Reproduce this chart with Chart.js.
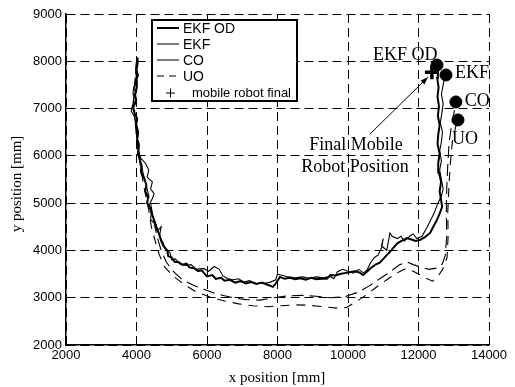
<!DOCTYPE html>
<html>
<head>
<meta charset="utf-8">
<script src="https://cdn.jsdelivr.net/npm/chart.js@4/dist/chart.umd.min.js"></script>
<style>html,body{margin:0;padding:0;background:#fff}</style>
</head>
<body>
<canvas id="trackChart" width="515" height="387"></canvas>
<script>
// axis ticks
const xTicks = [2000, 4000, 6000, 8000, 10000, 12000, 14000];
const yTicks = [2000, 3000, 4000, 5000, 6000, 7000, 8000, 9000];

// trajectories [x, y] in mm
const ekfOdPath = [[4020,8080],[4030,7950],[4000,7820],[4040,7700],[3990,7600],[4010,7450],[3960,7300],[3990,7150],[3900,7020],[3950,6900],[4020,6780],[3990,6650],[4050,6500],[4020,6350],[4060,6200],[4040,6050],[4100,5900],[4150,5780],[4130,5650],[4220,5520],[4280,5380],[4250,5250],[4330,5120],[4300,5000],[4400,4880],[4450,4740],[4520,4600],[4580,4450],[4650,4330],[4700,4200],[4760,4100],[4870,4000],[4900,3880],[5000,3850],[5080,3760],[5200,3750],[5300,3700],[5420,3720],[5500,3640],[5650,3620],[5750,3560],[5850,3580],[6000,3450],[6150,3480],[6250,3400],[6400,3420],[6500,3360],[6650,3380],[6800,3320],[6950,3350],[7100,3300],[7250,3330],[7400,3290],[7550,3320],[7700,3280],[7870,3230],[7950,3300],[8070,3440],[8200,3400],[8350,3420],[8500,3390],[8650,3410],[8800,3380],[8950,3420],[9100,3390],[9250,3400],[9400,3400],[9500,3480],[9650,3470],[9770,3500],[9900,3520],[10050,3540],[10200,3560],[10330,3530],[10430,3480],[10550,3560],[10650,3630],[10780,3700],[10900,3740],[11000,3820],[11100,3900],[11200,3980],[11280,4050],[11400,4150],[11520,4200],[11670,4260],[11800,4230],[11920,4200],[12040,4220],[12180,4280],[12330,4370],[12420,4500],[12520,4640],[12600,4780],[12670,4920],[12640,5070],[12600,5250],[12640,5450],[12580,5650],[12560,5850],[12600,6050],[12540,6250],[12560,6450],[12600,6650],[12550,6850],[12580,7050],[12540,7250],[12570,7450],[12530,7650],[12550,7850]];

const ekfPath = [[4000,8050],[4020,7900],[3980,7750],[4010,7600],[3920,7450],[3900,7300],[4000,7200],[3880,7050],[3850,6950],[3930,6850],[3990,6700],[4030,6550],[4000,6400],[4080,6250],[4060,6100],[4120,5950],[4250,5850],[4350,5700],[4300,5550],[4450,5450],[4400,5300],[4500,5200],[4450,5100],[4350,4950],[4420,4800],[4400,4650],[4550,4550],[4600,4420],[4700,4500],[4650,4300],[4760,4150],[4800,4050],[4950,3950],[5000,3800],[5100,3820],[5250,3700],[5400,3680],[5550,3700],[5700,3600],[5900,3620],[6050,3560],[6200,3660],[6350,3600],[6450,3460],[6600,3400],[6750,3380],[6900,3400],[7050,3330],[7200,3360],[7400,3300],[7600,3300],[7800,3330],[7950,3380],[8000,3500],[8150,3470],[8300,3440],[8500,3420],[8700,3440],[8900,3410],[9100,3440],[9300,3420],[9500,3450],[9600,3400],[9700,3550],[9850,3600],[10000,3560],[10150,3520],[10300,3600],[10450,3520],[10550,3600],[10650,3750],[10750,3850],[10850,3900],[10950,4050],[11000,4250],[10950,4100],[11100,4000],[11190,4370],[11250,4300],[11400,4250],[11500,4300],[11600,4200],[11750,4300],[11850,4350],[11950,4250],[12100,4300],[12250,4500],[12350,4650],[12450,4800],[12550,5000],[12650,5150],[12700,5300],[12650,5500],[12600,5700],[12650,5900],[12600,6100],[12650,6300],[12680,6500],[12620,6700],[12660,6900],[12700,7100],[12650,7300],[12700,7500],[12750,7700]];

const coPath = [[4000,8000],[3970,7700],[3950,7400],[3900,7100],[3950,6800],[4000,6500],[4050,6200],[4100,5900],[4200,5600],[4300,5300],[4400,5000],[4480,4650],[4580,4300],[4700,4000],[4850,3750],[5050,3550],[5300,3380],[5600,3270],[5900,3180],[6200,3100],[6500,3040],[6800,2990],[7100,2960],[7500,2950],[7900,3000],[8300,3040],[8700,3050],[9100,3030],[9500,3000],[9900,3020],[10300,3120],[10600,3250],[10900,3400],[11200,3550],[11450,3690],[11670,3760],[11850,3700],[12040,3650],[12300,3600],[12550,3630],[12680,3720],[12760,3900],[12800,4300],[12790,4800],[12800,5300],[12830,5800],[12870,6300],[12950,6700],[13060,7100]];

const uoPath = [[4000,8000],[3960,7600],[3920,7200],[3950,6800],[4000,6400],[4070,6000],[4150,5600],[4250,5200],[4350,4850],[4420,4500],[4530,4200],[4650,3900],[4800,3650],[5050,3450],[5350,3280],[5700,3120],[6100,3010],[6500,2930],[6900,2870],[7300,2830],[7700,2810],[8100,2830],[8500,2850],[8900,2840],[9300,2810],[9700,2780],[9950,2790],[10200,2900],[10500,3050],[10800,3220],[11100,3380],[11400,3530],[11650,3620],[11850,3560],[12050,3480],[12250,3400],[12400,3350],[12550,3450],[12700,3620],[12810,3850],[12840,4300],[12830,4800],[12860,5300],[12900,5800],[12960,6300],[13050,6600],[13110,6760]];

// final estimated positions and the true final position
const finalNames = ['EKF OD', 'EKF', 'CO', 'UO'];
const finalX = [12525, 12780, 13060, 13120];
const finalY = [7920, 7710, 7140, 6760];
const robotFinal = [12380, 7770];

const toPts = arr => arr.map(p => ({x: p[0], y: p[1]}));

const serif = 'Liberation Serif, Times New Roman, serif';
const sans = 'Liberation Sans, Arial, sans-serif';

// legend, labels, arrow, axis titles
const extras = {
  id: 'extras',
  afterDraw(chart) {
    const ctx = chart.ctx;
    const xs = chart.scales.x, ys = chart.scales.y;
    ctx.save();

    // legend box
    ctx.fillStyle = '#fff';
    ctx.fillRect(152, 20, 145, 81);
    ctx.strokeStyle = '#000';
    ctx.lineWidth = 2;
    ctx.strokeRect(152, 20, 145, 81);
    const rows = [28, 44, 60, 76];
    const widths = [2, 1, 1, 1];
    ctx.font = '14px ' + sans;
    ctx.fillStyle = '#000';
    ctx.textBaseline = 'middle';
    rows.forEach((ry, i) => {
      ctx.beginPath();
      ctx.lineWidth = widths[i];
      ctx.setLineDash(i === 3 ? [7, 5] : []);
      ctx.moveTo(157, ry);
      ctx.lineTo(179, ry);
      ctx.stroke();
      ctx.setLineDash([]);
      ctx.fillText(finalNames[i], 183, ry + 1);
    });
    ctx.lineWidth = 1;
    ctx.beginPath();
    ctx.moveTo(166, 93); ctx.lineTo(175, 93);
    ctx.moveTo(170.5, 88.5); ctx.lineTo(170.5, 97.5);
    ctx.stroke();
    ctx.font = '13px ' + sans;
    ctx.fillText('mobile robot final', 192, 93);

    // labels next to the final positions
    ctx.font = '18px ' + serif;
    ctx.textBaseline = 'alphabetic';
    const off = [[-64, -5], [9, 3], [9, 4], [-6, 24]];
    finalNames.forEach((n, i) => {
      const px = xs.getPixelForValue(finalX[i]);
      const py = ys.getPixelForValue(finalY[i]);
      ctx.fillText(n, px + off[i][0], py + off[i][1]);
    });

    // annotation
    ctx.textAlign = 'center';
    ctx.fillText('Final Mobile', 356, 150);
    ctx.fillText('Robot Position', 355, 172);
    const tx = xs.getPixelForValue(robotFinal[0]) - 4;
    const ty = ys.getPixelForValue(robotFinal[1]) + 5;
    const sx = 370, sy = 134;
    ctx.lineWidth = 1;
    ctx.beginPath();
    ctx.moveTo(sx, sy);
    ctx.lineTo(tx, ty);
    ctx.stroke();
    const ang = Math.atan2(ty - sy, tx - sx);
    ctx.beginPath();
    ctx.moveTo(tx, ty);
    ctx.lineTo(tx - 8 * Math.cos(ang - 0.35), ty - 8 * Math.sin(ang - 0.35));
    ctx.lineTo(tx - 8 * Math.cos(ang + 0.35), ty - 8 * Math.sin(ang + 0.35));
    ctx.closePath();
    ctx.fill();

    // axis titles
    ctx.font = '15px ' + serif;
    ctx.fillText('x position [mm]', 277, 382);
    ctx.translate(17, 184);
    ctx.rotate(-Math.PI / 2);
    ctx.textBaseline = 'middle';
    ctx.fillText('y position [mm]', 0, 0);
    ctx.restore();
  }
};

new Chart(document.getElementById('trackChart'), {
  type: 'scatter',
  data: {
    datasets: [
      {
        label: 'final',
        data: finalX.map((x, i) => ({x: x, y: finalY[i]})),
        backgroundColor: '#000',
        borderColor: '#000',
        pointRadius: 6
      },
      {
        label: 'mobile robot final',
        data: [{x: robotFinal[0], y: robotFinal[1]}],
        pointStyle: 'cross',
        pointRadius: 7,
        borderWidth: 3.5,
        borderColor: '#000'
      },
      { label: 'EKF OD', data: toPts(ekfOdPath), showLine: true, borderColor: '#000', borderWidth: 2, pointRadius: 0, tension: 0 },
      { label: 'EKF', data: toPts(ekfPath), showLine: true, borderColor: '#000', borderWidth: 1.1, pointRadius: 0, tension: 0 },
      { label: 'CO', data: toPts(coPath), showLine: true, borderColor: '#000', borderWidth: 1.1, borderDash: [12, 6], pointRadius: 0, tension: 0 },
      { label: 'UO', data: toPts(uoPath), showLine: true, borderColor: '#000', borderWidth: 1.1, borderDash: [9, 7], pointRadius: 0, tension: 0 }
    ]
  },
  options: {
    responsive: false,
    animation: false,
    events: [],
    layout: { padding: { top: 14, right: 26, left: 0, bottom: 0 } },
    plugins: { legend: { display: false }, tooltip: { enabled: false } },
    scales: {
      x: {
        type: 'linear', min: 2000, max: 14000,
        afterBuildTicks: s => { s.ticks = xTicks.map(v => ({value: v})); },
        afterFit: s => { s.height = 42; },
        ticks: { color: '#000', font: { family: sans, size: 13 }, padding: 3, maxRotation: 0, callback: v => String(v) },
        grid: { color: '#000', lineWidth: 1, drawTicks: false },
        border: { color: '#000', width: 1.5, dash: [9, 5] }
      },
      y: {
        type: 'linear', min: 2000, max: 9000,
        afterBuildTicks: s => { s.ticks = yTicks.map(v => ({value: v})); },
        afterFit: s => { s.width = 66; },
        ticks: { color: '#000', font: { family: sans, size: 13 }, padding: 4, callback: v => String(v) },
        grid: { color: '#000', lineWidth: 1, drawTicks: false },
        border: { color: '#000', width: 1.5, dash: [9, 5] }
      }
    }
  },
  plugins: [extras]
});
</script>
</body>
</html>
